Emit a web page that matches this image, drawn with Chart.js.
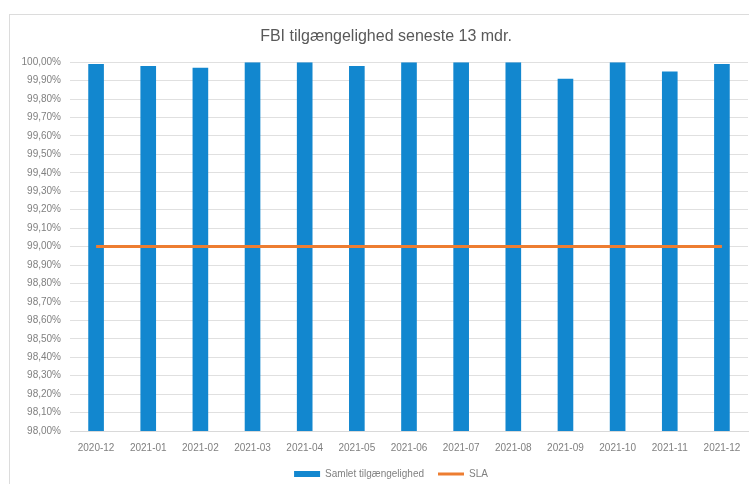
<!DOCTYPE html>
<html>
<head>
<meta charset="utf-8">
<script src="https://cdn.jsdelivr.net/npm/chart.js@4"></script>
<style>
html,body{margin:0;padding:0;background:#fff;}
#wrap{position:relative;width:749px;height:484px;}
#frame{position:absolute;left:9px;top:14px;width:760px;height:500px;border:1px solid #dcdcdc;pointer-events:none;}
canvas{position:absolute;left:0;top:0;}
</style>
</head>
<body>
<div id="wrap">
<canvas id="c" width="749" height="484"></canvas>
<div id="frame"></div>
</div>
<script>
const categories = ["2020-12","2021-01","2021-02","2021-03","2021-04","2021-05","2021-06","2021-07","2021-08","2021-09","2021-10","2021-11","2021-12"];
const availability = [99.99, 99.98, 99.97, 100.00, 100.00, 99.98, 100.00, 100.00, 100.00, 99.91, 100.00, 99.95, 99.99];
const sla = [99, 99, 99, 99, 99, 99, 99, 99, 99, 99, 99, 99, 99];
const titleText = "FBI tilgængelighed seneste 13 mdr.";
const seriesNames = ["Samlet tilgængelighed", "SLA"];

const FONT = "'Liberation Sans', Arial, sans-serif";

const boxShift = {
  id: 'boxShift',
  afterLayout(chart) {
    const l = chart.legend;
    if (l) { l.left += 17; l.right += 17; l.top -= 2; l.bottom -= 2; }
    const t = chart.titleBlock;
    if (t) { t.left += 12; t.right += 12; }
  }
};

new Chart(document.getElementById('c'), {
  data: {
    labels: categories,
    datasets: [
      {
        type: 'line',
        label: seriesNames[1],
        data: sla,
        borderColor: '#ED7D31',
        backgroundColor: '#ED7D31',
        borderWidth: 3,
        pointRadius: 0,
        pointStyle: 'line',
        order: 0
      },
      {
        type: 'bar',
        label: seriesNames[0],
        data: availability,
        backgroundColor: '#1287CF',
        borderWidth: 0,
        barPercentage: 0.3,
        categoryPercentage: 1,
        pointStyle: 'rect',
        order: 1
      }
    ]
  },
  plugins: [boxShift],
  options: {
    responsive: false,
    animation: false,
    layout: { padding: { left: 0, right: 1, top: 0, bottom: -7 } },
    plugins: {
      title: {
        display: true,
        text: titleText,
        color: '#595959',
        font: { family: FONT, size: 16, weight: 'normal' },
        padding: { top: 27, bottom: 16 }
      },
      legend: {
        position: 'bottom',
        reverse: true,
        labels: {
          color: '#808080',
          font: { family: FONT, size: 10 },
          usePointStyle: true,
          pointStyleWidth: 26,
          boxHeight: 6,
          padding: 14
        }
      },
      tooltip: { enabled: false }
    },
    scales: {
      x: {
        grid: { display: false },
        border: { display: true, color: '#d9d9d9', width: 1 },
        ticks: { color: '#808080', font: { family: FONT, size: 10 }, maxRotation: 0, autoSkip: false, padding: 3 }
      },
      y: {
        min: 98,
        max: 100,
        grid: { color: '#e0e0e0', lineWidth: 1, drawTicks: false },
        border: { display: false },
        ticks: {
          stepSize: 0.1,
          color: '#808080',
          font: { family: FONT, size: 10 },
          padding: 9,
          callback: v => Number(v).toFixed(2).replace('.', ',') + '%'
        },
        afterFit: s => { s.width = 70; }
      }
    }
  }
});
</script>
</body>
</html>
